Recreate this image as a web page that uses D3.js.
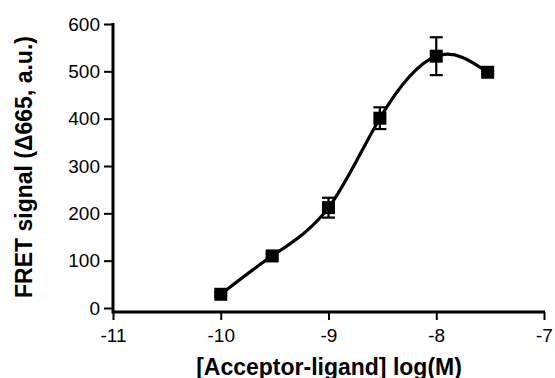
<!DOCTYPE html>
<html>
<head>
<meta charset="utf-8">
<script src="https://cdn.jsdelivr.net/npm/d3@7"></script>
<style>
  html, body { margin: 0; padding: 0; background: #fff; }
  svg { display: block; }
  text { font-family: "Liberation Sans", Arial, sans-serif; fill: #000; }
</style>
</head>
<body>
<svg id="chart" width="555" height="378"></svg>
<script>
// ---- data ----
const logConc = [-10, -9.523, -9, -8.523, -8, -7.523];
const signal  = [29, 110, 212, 401, 532, 498];
const sem     = [4, 5, 21, 23, 40, 4];
const xTicks  = [-11, -10, -9, -8, -7];
const yTicks  = [0, 100, 200, 300, 400, 500, 600];
const xTitle  = "[Acceptor-ligand] log(M)";
const yTitle  = "FRET signal (\u0394665, a.u.)";

const svg = d3.select("#chart");
const x = d3.scaleLinear().domain([-11, -7]).range([113, 544]);
const y = d3.scaleLinear().domain([0, 600]).range([308, 24]);
const xAxisY = 312;

// y axis
const gy = svg.append("g").attr("transform", "translate(113,0)")
  .call(d3.axisLeft(y).tickValues(yTicks).tickSize(9).tickPadding(4).tickFormat(d => String(d)));
gy.select(".domain").remove();
gy.selectAll(".tick line").attr("stroke", "#000").attr("stroke-width", 2);
gy.selectAll(".tick text").style("font-size", "19px").style("font-family", "Liberation Sans, Arial, sans-serif");
svg.append("line").attr("x1", 113).attr("x2", 113).attr("y1", y(600) - 1).attr("y2", xAxisY + 1.5)
  .attr("stroke", "#000").attr("stroke-width", 3);

// x axis
const gx = svg.append("g").attr("transform", `translate(0,${xAxisY})`)
  .call(d3.axisBottom(x).tickValues(xTicks).tickSize(8).tickPadding(8.5).tickFormat(d => String(d)));
gx.select(".domain").remove();
gx.selectAll(".tick line").attr("stroke", "#000").attr("stroke-width", 2);
gx.selectAll(".tick text").style("font-size", "19px").style("font-family", "Liberation Sans, Arial, sans-serif");
svg.append("line").attr("x1", 113).attr("x2", x(-7) + 1).attr("y1", xAxisY).attr("y2", xAxisY)
  .attr("stroke", "#000").attr("stroke-width", 3);

// data
const pts = logConc.map((c, i) => ({ c, v: signal[i], e: sem[i] }));

// curve
const line = d3.line().x(d => x(d.c)).y(d => y(d.v)).curve(d3.curveNatural);
svg.append("path").datum(pts).attr("d", line)
  .attr("fill", "none").attr("stroke", "#000").attr("stroke-width", 3.2);

// error bars
const eb = svg.append("g").attr("stroke", "#000").attr("stroke-width", 2.2);
pts.forEach(d => {
  const cx = x(d.c);
  eb.append("line").attr("x1", cx).attr("x2", cx).attr("y1", y(d.v + d.e)).attr("y2", y(d.v - d.e));
  eb.append("line").attr("x1", cx - 6.5).attr("x2", cx + 6.5).attr("y1", y(d.v + d.e)).attr("y2", y(d.v + d.e));
  eb.append("line").attr("x1", cx - 6.5).attr("x2", cx + 6.5).attr("y1", y(d.v - d.e)).attr("y2", y(d.v - d.e));
});

// markers
svg.append("g").selectAll("rect").data(pts).join("rect")
  .attr("x", d => x(d.c) - 6.5).attr("y", d => y(d.v) - 6.5)
  .attr("width", 13).attr("height", 13).attr("fill", "#000");

// titles
svg.append("text").attr("x", 329).attr("y", 374.5).attr("text-anchor", "middle")
  .style("font-size", "23px").style("font-weight", "bold").text(xTitle);
svg.append("text").attr("transform", "translate(32,167) rotate(-90)").attr("text-anchor", "middle")
  .style("font-size", "23px").style("font-weight", "bold").text(yTitle);
</script>
</body>
</html>
